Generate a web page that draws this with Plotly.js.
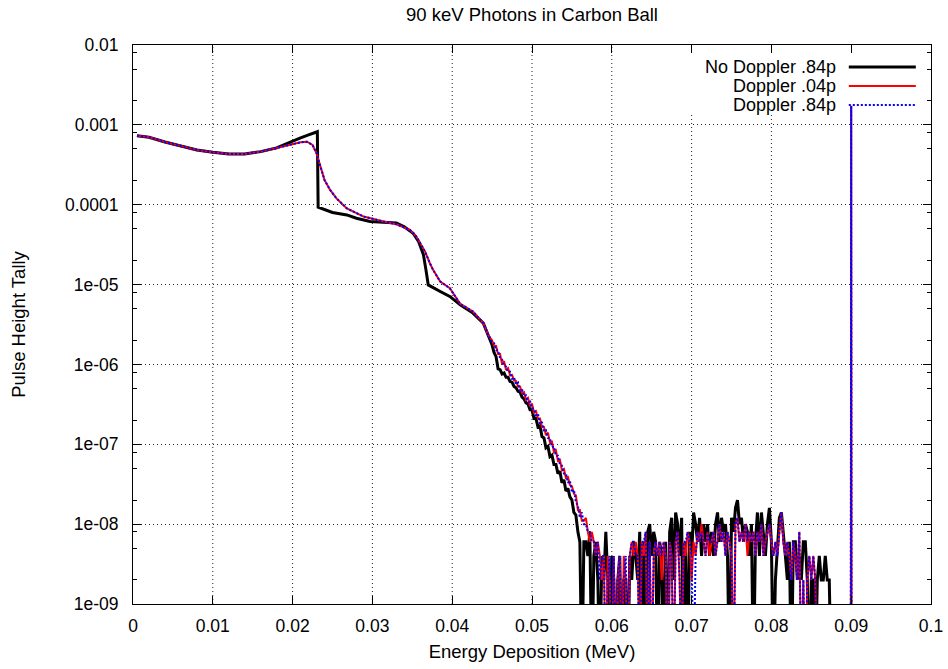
<!DOCTYPE html>
<html>
<head>
<meta charset="utf-8">
<script src="https://cdn.plot.ly/plotly-3.0.1.min.js"></script>
<style>html,body{margin:0;padding:0;background:#fff}#chart{width:948px;height:669px}</style>
</head>
<body>
<div id="chart"></div>
<script>
const chartTitle = "90 keV Photons in Carbon Ball";
const xTitle = "Energy Deposition (MeV)";
const yTitle = "Pulse Height Tally";
const seriesNames = ["No Doppler .84p", "Doppler .04p", "Doppler .84p"];

const xTickVals = [0, 0.01, 0.02, 0.03, 0.04, 0.05, 0.06, 0.07, 0.08, 0.09, 0.1];
const xTickText = ["0", "0.01", "0.02", "0.03", "0.04", "0.05", "0.06", "0.07", "0.08", "0.09", "0.1"];
const yTickVals = [1e-9, 1e-8, 1e-7, 1e-6, 1e-5, 1e-4, 1e-3, 1e-2];
const yTickText = ["1e-09", "1e-08", "1e-07", "1e-06", "1e-05", "0.0001", "0.001", "0.01"];

// smooth part, no Doppler
const xNoDopSmooth = [0.0005,0.002,0.004,0.006,0.008,0.010,0.012,0.014,0.016,0.018,0.020,0.021,0.022,0.0231,0.0232,0.025,0.0268,0.028,0.0297,0.031,0.033,0.034,0.0351,0.0358,0.0364,0.0367,0.037,0.0385,0.0397,0.041,0.0426,0.0439,0.0445];
const yNoDopSmooth = [7.3e-4,7.0e-4,6.1e-4,5.45e-4,4.85e-4,4.54e-4,4.33e-4,4.33e-4,4.62e-4,5.14e-4,6.3e-4,6.86e-4,7.48e-4,8.2e-4,9.3e-5,8.0e-5,7.45e-5,6.78e-5,6.15e-5,6.1e-5,5.9e-5,5.3e-5,4.4e-5,3.45e-5,2.36e-5,1.55e-5,9.9e-6,8.2e-6,7.1e-6,5.6e-6,4.39e-6,3.29e-6,2.4e-6];

// smooth part, Doppler
const xDopSmooth = [0.0005,0.002,0.004,0.006,0.008,0.010,0.012,0.014,0.016,0.018,0.020,0.021,0.0218,0.0225,0.023,0.0233,0.0236,0.024,0.0247,0.0255,0.0268,0.0289,0.0314,0.033,0.0347,0.0355,0.036,0.0366,0.0372,0.0376,0.0385,0.0397,0.041,0.0426,0.0439,0.0445];
const yDop04Smooth = [7.3e-4,7.0e-4,6.1e-4,5.45e-4,4.85e-4,4.54e-4,4.33e-4,4.33e-4,4.62e-4,5.14e-4,5.77e-4,6.05e-4,6.15e-4,5.6e-4,4.4e-4,3.46e-4,2.73e-4,2.04e-4,1.53e-4,1.2e-4,9.0e-5,7.1e-5,6.15e-5,5.7e-5,4.84e-5,4.0e-5,3.3e-5,2.59e-5,1.85e-5,1.53e-5,1.09e-5,9.0e-6,5.74e-6,4.6e-6,3.29e-6,2.35e-6];
const yDop84Smooth = [7.3e-4,7.0e-4,6.1e-4,5.45e-4,4.85e-4,4.54e-4,4.33e-4,4.33e-4,4.62e-4,5.14e-4,5.77e-4,6.05e-4,6.15e-4,5.6e-4,4.4e-4,3.46e-4,2.73e-4,2.04e-4,1.53e-4,1.2e-4,9.0e-5,7.1e-5,6.15e-5,5.7e-5,4.84e-5,4.0e-5,3.3e-5,2.59e-5,1.85e-5,1.53e-5,1.09e-5,9.0e-6,5.74e-6,4.6e-6,3.29e-6,2.35e-6];

// noisy tail (1e-10 = empty bin, below the axis)
const xNoisy = [
0.04500,0.04525,0.04550,0.04575,0.04600,0.04625,0.04650,0.04675,
0.04700,0.04725,0.04750,0.04775,0.04800,0.04825,0.04850,0.04875,
0.04900,0.04925,0.04950,0.04975,0.05000,0.05025,0.05050,0.05075,
0.05100,0.05125,0.05150,0.05175,0.05200,0.05225,0.05250,0.05275,
0.05300,0.05325,0.05350,0.05375,0.05400,0.05425,0.05450,0.05475,
0.05500,0.05525,0.05550,0.05575,0.05600,0.05625,0.05650,0.05675,
0.05700,0.05725,0.05750,0.05775,0.05800,0.05825,0.05850,0.05875,
0.05900,0.05925,0.05950,0.05975,0.06000,0.06025,0.06050,0.06075,
0.06100,0.06125,0.06150,0.06175,0.06200,0.06225,0.06250,0.06275,
0.06300,0.06325,0.06350,0.06375,0.06400,0.06425,0.06450,0.06475,
0.06500,0.06525,0.06550,0.06575,0.06600,0.06625,0.06650,0.06675,
0.06700,0.06725,0.06750,0.06775,0.06800,0.06825,0.06850,0.06875,
0.06900,0.06925,0.06950,0.06975,0.07000,0.07025,0.07050,0.07075,
0.07100,0.07125,0.07150,0.07175,0.07200,0.07225,0.07250,0.07275,
0.07300,0.07325,0.07350,0.07375,0.07400,0.07425,0.07450,0.07475,
0.07500,0.07525,0.07550,0.07575,0.07600,0.07625,0.07650,0.07675,
0.07700,0.07725,0.07750,0.07775,0.07800,0.07825,0.07850,0.07875,
0.07900,0.07925,0.07950,0.07975,0.08000,0.08025,0.08050,0.08075,
0.08100,0.08125,0.08150,0.08175,0.08200,0.08225,0.08250,0.08275,
0.08300,0.08325,0.08350,0.08375,0.08400,0.08425,0.08450,0.08475,
0.08500,0.08525,0.08550,0.08575,0.08600,0.08625,0.08650,0.08675,
0.08700,0.08725,0.08750,0.08775,
0.08800];

const yNoDopNoisy = [
1.75e-6,1.4e-6,1.25e-6,8.8e-7,8.6e-7,7.6e-7,7.8e-7,6.9e-7,
6.9e-7,6.1e-7,6.0e-7,5.3e-7,5.1e-7,4.6e-7,4.5e-7,3.9e-7,
3.7e-7,3.3e-7,3.2e-7,2.7e-7,2.7e-7,2.1e-7,2.1e-7,1.65e-7,
1.7e-7,1.25e-7,1.2e-7,9.0e-8,9.4e-8,7.0e-8,7.3e-8,5.6e-8,
5.6e-8,4.3e-8,4.6e-8,3.3e-8,3.6e-8,2.6e-8,2.8e-8,2.2e-8,
2.0e-8,1.4e-8,1.3e-8,8e-9,6e-9,1e-10,6e-9,6e-9,
4e-9,8e-9,1e-10,4e-9,6e-9,2e-9,1e-10,4e-9,
2e-9,8e-9,2e-9,1e-10,4e-9,2e-9,1e-10,2e-9,
4e-9,1e-10,2e-9,2e-9,1e-10,4e-9,2e-9,6e-9,
4e-9,2e-9,8e-9,1e-10,6e-9,1e-10,8e-9,1.0e-8,
4e-9,8e-9,6e-9,1e-10,6e-9,4e-9,1e-10,6e-9,
1e-10,8e-9,1.2e-8,2e-9,1.4e-8,1.0e-8,4e-9,1.2e-8,
1e-10,6e-9,1e-10,8e-9,4e-9,1.4e-8,1.0e-8,6e-9,
1.2e-8,4e-9,1.0e-8,6e-9,1.0e-8,4e-9,8e-9,4e-9,
1.0e-8,1.4e-8,6e-9,1.2e-8,8e-9,1.0e-8,4e-9,1e-10,
1.2e-8,8e-9,1.6e-8,2.0e-8,1.0e-8,1.2e-8,6e-9,1.0e-8,
8e-9,4e-9,1.0e-8,1e-10,6e-9,1.4e-8,4e-9,1.4e-8,
8e-9,4e-9,1.0e-8,1.6e-8,6e-9,1e-10,2e-9,6e-9,
1.2e-8,1.4e-8,8e-9,4e-9,2e-9,6e-9,1e-10,6e-9,
6e-9,2e-9,4e-9,2e-9,6e-9,6e-9,2e-9,1e-10,
2e-9,2e-9,1e-10,2e-9,4e-9,2e-9,2e-9,4e-9,
2e-9,2e-9,1e-10,1e-10,
1e-10];

const yDop04Noisy = [
2.0e-6,1.7e-6,1.7e-6,1.35e-6,1.35e-6,1.0e-6,1.1e-6,8.5e-7,
9.0e-7,7.3e-7,7.4e-7,6.3e-7,6.2e-7,5.3e-7,5.3e-7,4.4e-7,
4.5e-7,3.6e-7,3.8e-7,3.0e-7,3.2e-7,2.5e-7,2.6e-7,2.1e-7,
2.1e-7,1.65e-7,1.65e-7,1.3e-7,1.4e-7,1.05e-7,1.08e-7,8.0e-8,
8.4e-8,6.2e-8,6.4e-8,4.7e-8,4.9e-8,3.8e-8,3.9e-8,3.1e-8,
3.0e-8,2.4e-8,2.3e-8,1.5e-8,1.5e-8,1.1e-8,1.1e-8,1.2e-8,
8e-9,6e-9,8e-9,6e-9,4e-9,6e-9,4e-9,2e-9,
4e-9,1e-10,4e-9,2e-9,1e-10,4e-9,1e-10,2e-9,
4e-9,1e-10,4e-9,2e-9,1e-10,4e-9,6e-9,4e-9,
6e-9,4e-9,1e-10,6e-9,4e-9,8e-9,1e-10,6e-9,
1e-10,4e-9,6e-9,4e-9,6e-9,2e-9,6e-9,4e-9,
1e-10,6e-9,4e-9,1e-10,6e-9,8e-9,2e-9,1e-10,
6e-9,4e-9,8e-9,6e-9,2e-9,6e-9,4e-9,8e-9,
6e-9,1.0e-8,6e-9,4e-9,8e-9,4e-9,6e-9,8e-9,
4e-9,6e-9,1.0e-8,6e-9,8e-9,4e-9,8e-9,6e-9,
4e-9,1e-10,1.0e-8,1.2e-8,6e-9,8e-9,6e-9,1.0e-8,
4e-9,8e-9,6e-9,8e-9,4e-9,8e-9,6e-9,1.0e-8,
4e-9,6e-9,8e-9,1.0e-8,6e-9,4e-9,6e-9,4e-9,
8e-9,1.4e-8,6e-9,4e-9,6e-9,4e-9,2e-9,6e-9,
4e-9,2e-9,8e-9,1e-10,2e-9,1e-10,2e-9,4e-9,
2e-9,4e-9,2e-9,1e-10,1e-10,1e-10,1e-10,1e-10,
1e-10,1e-10,1e-10,1e-10,
1e-10];

const yDop84Noisy = [
1.9e-6,1.85e-6,1.5e-6,1.5e-6,1.2e-6,1.15e-6,9.6e-7,9.4e-7,
8.0e-7,8.1e-7,6.6e-7,6.9e-7,5.6e-7,5.9e-7,4.7e-7,4.9e-7,
4.0e-7,4.1e-7,3.3e-7,3.5e-7,2.8e-7,2.8e-7,2.3e-7,2.4e-7,
1.8e-7,1.9e-7,1.45e-7,1.5e-7,1.2e-7,1.2e-7,9.2e-8,9.4e-8,
7.2e-8,7.2e-8,5.6e-8,5.4e-8,4.3e-8,4.3e-8,3.3e-8,3.5e-8,
2.5e-8,2.7e-8,1.9e-8,1.7e-8,1.2e-8,1.4e-8,1.0e-8,1.0e-8,
8e-9,8e-9,6e-9,6e-9,4e-9,6e-9,2e-9,4e-9,
4e-9,1e-10,2e-9,4e-9,1e-10,4e-9,1e-10,2e-9,
4e-9,1e-10,2e-9,4e-9,1e-10,4e-9,6e-9,6e-9,
4e-9,4e-9,1e-10,6e-9,6e-9,8e-9,1e-10,6e-9,
1e-10,4e-9,6e-9,4e-9,6e-9,4e-9,6e-9,4e-9,
1e-10,6e-9,4e-9,1e-10,6e-9,8e-9,2e-9,1e-10,
6e-9,6e-9,8e-9,6e-9,4e-9,1e-10,4e-9,8e-9,
6e-9,8e-9,6e-9,4e-9,8e-9,6e-9,6e-9,8e-9,
4e-9,6e-9,1.0e-8,6e-9,8e-9,4e-9,8e-9,6e-9,
4e-9,1e-10,1.0e-8,1.2e-8,6e-9,8e-9,6e-9,1.0e-8,
6e-9,8e-9,6e-9,8e-9,4e-9,8e-9,6e-9,1.0e-8,
4e-9,6e-9,8e-9,1.0e-8,6e-9,4e-9,6e-9,4e-9,
8e-9,1.4e-8,6e-9,4e-9,6e-9,4e-9,2e-9,6e-9,
4e-9,2e-9,8e-9,1e-10,2e-9,1e-10,2e-9,4e-9,
2e-9,4e-9,2e-9,1e-10,1e-10,1e-10,1e-10,1e-10,
1e-10,1e-10,1e-10,1e-10,
1e-10];

// full-energy peak
const xPeak = [0.0895, 0.08995, 0.09, 0.09005, 0.1];
const yDop04Peak = [1e-10, 1e-10, 1.73e-3, 1e-10, 1e-10];
const yDop84Peak = [1e-10, 1e-10, 1.73e-3, 1e-10, 1e-10];

const colors = ["#000000", "#ff0000", "#0000ff"];
const widths = [3, 2, 2];
const dashes = ["solid", "solid", "2px,2px"];

const traces = [
  {x: xNoDopSmooth.concat(xNoisy), y: yNoDopSmooth.concat(yNoDopNoisy)},
  {x: xDopSmooth.concat(xNoisy, xPeak), y: yDop04Smooth.concat(yDop04Noisy, yDop04Peak)},
  {x: xDopSmooth.concat(xNoisy, xPeak), y: yDop84Smooth.concat(yDop84Noisy, yDop84Peak)}
].map((t, i) => ({
  x: t.x, y: t.y, type: "scatter", mode: "lines", name: seriesNames[i],
  line: {color: colors[i], width: widths[i], dash: dashes[i]},
  showlegend: false, hoverinfo: "x+y+name"
}));

const minorVals = [];
for (let e = -9; e < -2; e++) {
  [2, 5, 8].forEach(m => minorVals.push(m * Math.pow(10, e)));
}

const gridColor = "#222";
const gridDash = "1px,3px";
const keyBottom = 0.879; // paper y of the key's opaque area

// gnuplot-style key: text right-aligned, sample to its right
const keyRows = [0.9607, 0.9267, 0.8928];
const annotations = seriesNames.map((n, i) => ({
  xref: "paper", yref: "paper", x: 0.8835, y: keyRows[i], text: n,
  showarrow: false, xanchor: "right", yanchor: "middle",
  font: {size: 18, color: "#000"}
}));
// vertical grid lines (hidden behind the key at the right)
const gridShapes = xTickVals.slice(1, -1).map(v => ({
  type: "line", xref: "x", yref: "paper", layer: "below",
  x0: v, x1: v, y0: 0, y1: v >= 0.07 ? keyBottom : 1,
  line: {color: gridColor, width: 1, dash: gridDash}
}));
const keyShapes = seriesNames.map((n, i) => ({
  type: "line", xref: "paper", yref: "paper",
  x0: 0.897, x1: 0.981, y0: keyRows[i], y1: keyRows[i],
  line: {color: colors[i], width: widths[i], dash: dashes[i]}
}));

const axisCommon = {
  showline: true, linecolor: "#000", linewidth: 1, mirror: "ticks",
  ticks: "inside", ticklen: 8, tickwidth: 1, tickcolor: "#000",
  zeroline: false, tickfont: {size: 17.5, color: "#000"}
};

const layout = {
  width: 948, height: 669,
  margin: {l: 133, r: 17, t: 45, b: 65},
  paper_bgcolor: "#fff", plot_bgcolor: "#fff",
  font: {family: "Liberation Sans, Arial, Helvetica, sans-serif", size: 18, color: "#000"},
  title: {text: chartTitle, font: {size: 18.5, color: "#000"}, x: 0.5, xref: "paper",
          y: 1 - 15 / 669, yref: "container", yanchor: "middle"},
  xaxis: Object.assign({}, axisCommon, {
    range: [0, 0.1], tickmode: "array", tickvals: xTickVals, ticktext: xTickText,
    ticklabelstandoff: 6, showgrid: false,
    title: {text: xTitle, font: {size: 18.5}, standoff: 10}
  }),
  yaxis: Object.assign({}, axisCommon, {
    type: "log", range: [-9, -2], tickmode: "array", tickvals: yTickVals, ticktext: yTickText,
    ticklabelstandoff: 10,
    showgrid: true, gridcolor: gridColor, gridwidth: 1, griddash: gridDash,
    minor: {tickmode: "array", tickvals: minorVals, ticks: "inside", ticklen: 4, tickcolor: "#000", showgrid: false},
    title: {text: yTitle, font: {size: 18.5}, standoff: 34}
  }),
  annotations: annotations,
  shapes: gridShapes.concat(keyShapes),
  showlegend: false
};

Plotly.newPlot("chart", traces, layout, {displayModeBar: false, staticPlot: true});
</script>
</body>
</html>
